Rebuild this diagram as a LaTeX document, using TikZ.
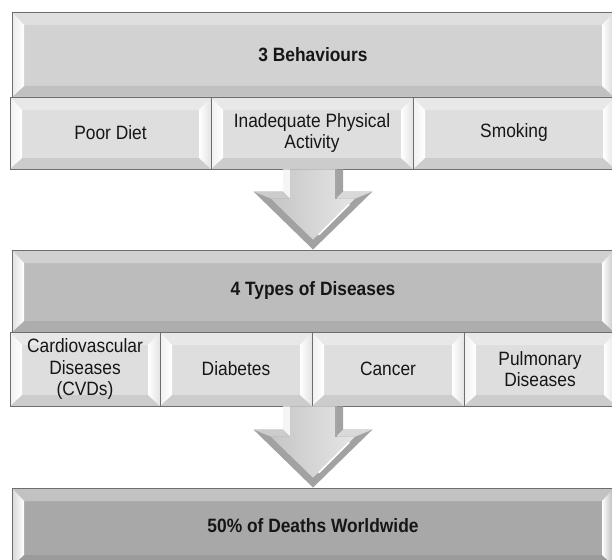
\documentclass[tikz,border=0pt]{standalone}
\usepackage{fontspec}
\setmainfont{Liberation Sans}[FakeStretch=0.9]
\usetikzlibrary{calc}

\definecolor{edgegray}{HTML}{6E6E6E}
\definecolor{faceA}{HTML}{D2D2D2}
\definecolor{faceB}{HTML}{DEDEDE}
\definecolor{faceC}{HTML}{BCBCBC}
\definecolor{faceD}{HTML}{A8A8A8}
\definecolor{inkgray}{HTML}{161616}
\definecolor{arrowbase}{HTML}{A2A2A2}

\tikzset{
  % bevelled panel: face colour plus four sloped edge bands
  bevel/.style={draw=edgegray, line width=0.9pt, fill=#1, inner sep=2pt,
    align=center, text=inkgray,
    font=\fontsize{19.3}{21.5}\selectfont,
    path picture={
      \path (path picture bounding box.north west) coordinate (bNW)
            (path picture bounding box.north east) coordinate (bNE)
            (path picture bounding box.south east) coordinate (bSE)
            (path picture bounding box.south west) coordinate (bSW);
      \fill[#1!70!white] (bNW) -- (bNE) -- ($(bNE)+(-12pt,-13pt)$)
            -- ($(bNW)+(12pt,-13pt)$) -- cycle;
      \fill[#1!92!black] (bSW) -- (bSE) -- ($(bSE)+(-12pt,11pt)$)
            -- ($(bSW)+(12pt,11pt)$) -- cycle;
      \shade[left color=#1!45!white, right color=white]
            (bNW) -- ($(bNW)+(12pt,-13pt)$) -- ($(bSW)+(12pt,11pt)$)
            -- (bSW) -- cycle;
      \shade[left color=white, right color=#1!85!white]
            (bNE) -- ($(bNE)+(-12pt,-13pt)$) -- ($(bSE)+(-12pt,11pt)$)
            -- (bSE) -- cycle;
    }},
  bar/.style={bevel=#1, minimum width=602pt},
  item/.style={bevel=faceB},
}

% bevelled block arrow from the lower edge of #1 down to the top of #2
\newcommand{\blockarrow}[2]{%
  \coordinate (aTop) at (#1.south -| #2.north);
  \coordinate (aTip) at (#2.north);
  \fill[arrowbase] ($(aTop)+(-30pt,0pt)$) -- ($(aTop)+(30pt,0pt)$)
     -- ($(aTip)+(30pt,58pt)$) -- ($(aTip)+(59.5pt,58pt)$) -- (aTip)
     -- ($(aTip)+(-59.5pt,58pt)$) -- ($(aTip)+(-30pt,58pt)$) -- cycle;
  \fill[gray!8] ($(aTop)+(-30pt,0pt)$) -- ($(aTop)+(-23pt,0pt)$)
     -- ($(aTip)+(-23pt,51pt)$) -- ($(aTip)+(-30pt,58pt)$) -- cycle;
  \fill[gray!40] ($(aTip)+(-59.5pt,58pt)$) -- ($(aTip)+(-30pt,58pt)$)
     -- ($(aTip)+(-23pt,51pt)$) -- ($(aTip)+(-42.2pt,51pt)$) -- cycle;
  \fill[gray!30] ($(aTip)+(59.5pt,58pt)$) -- ($(aTip)+(30pt,58pt)$)
     -- ($(aTip)+(23pt,51pt)$) -- ($(aTip)+(42.2pt,51pt)$) -- cycle;
  \shade[left color=gray!45, right color=gray!20]
     ($(aTop)+(-23pt,0pt)$) -- ($(aTop)+(23pt,0pt)$)
     -- ($(aTip)+(23pt,51pt)$) -- ($(aTip)+(42.2pt,51pt)$)
     -- ($(aTip)+(0pt,9.9pt)$) -- ($(aTip)+(-42.2pt,51pt)$)
     -- ($(aTip)+(-23pt,51pt)$) -- cycle;
  \draw[white, line width=1.6pt, line cap=round]
     ($(aTip)+(36pt,45pt)$) -- ($(aTip)+(6pt,15pt)$);
  \draw[gray!70, line width=1.2pt]
     ($(aTop)+(23pt,0pt)$) -- ($(aTip)+(23pt,51pt)$);
}

\begin{document}
\begin{tikzpicture}[x=1pt, y=-1pt]
  \useasboundingbox (0,0) rectangle (612,559);
  \clip (0,0) rectangle (612,559);

  % behaviours
  \node[bar=faceA, minimum height=85pt] (beh) at (313,54.5) {\bfseries 3 Behaviours};
  \node[item, minimum width=201pt, minimum height=72pt] (diet) at (110.5,133) {Poor Diet};
  \node[item, minimum width=202pt, minimum height=72pt] (activity) at (312,133)
       {Inadequate Physical\\Activity};
  \node[item, minimum width=202pt, minimum height=72pt] (smoking) at (514,133) {Smoking};

  % diseases
  \node[bar=faceC, minimum height=82pt] (types) at (313,291) {\bfseries 4 Types of Diseases};
  \node[item, minimum width=150pt, minimum height=74pt] (cvd) at (85,369)
       {Cardiovascular\\Diseases\\(CVDs)};
  \node[item, minimum width=152pt, minimum height=74pt] (diab) at (236,369) {Diabetes};
  \node[item, minimum width=152pt, minimum height=74pt] (cancer) at (388,369) {Cancer};
  \node[item, minimum width=152pt, minimum height=74pt] (pulm) at (540,369)
       {Pulmonary\\Diseases};

  % outcome
  \node[bar=faceD, minimum height=78pt] (deaths) at (313,527)
       {\raisebox{4pt}{\bfseries 50\% of Deaths Worldwide}};

  % connecting arrows
  \blockarrow{activity}{types}
  \blockarrow{diab}{deaths}
\end{tikzpicture}
\end{document}
